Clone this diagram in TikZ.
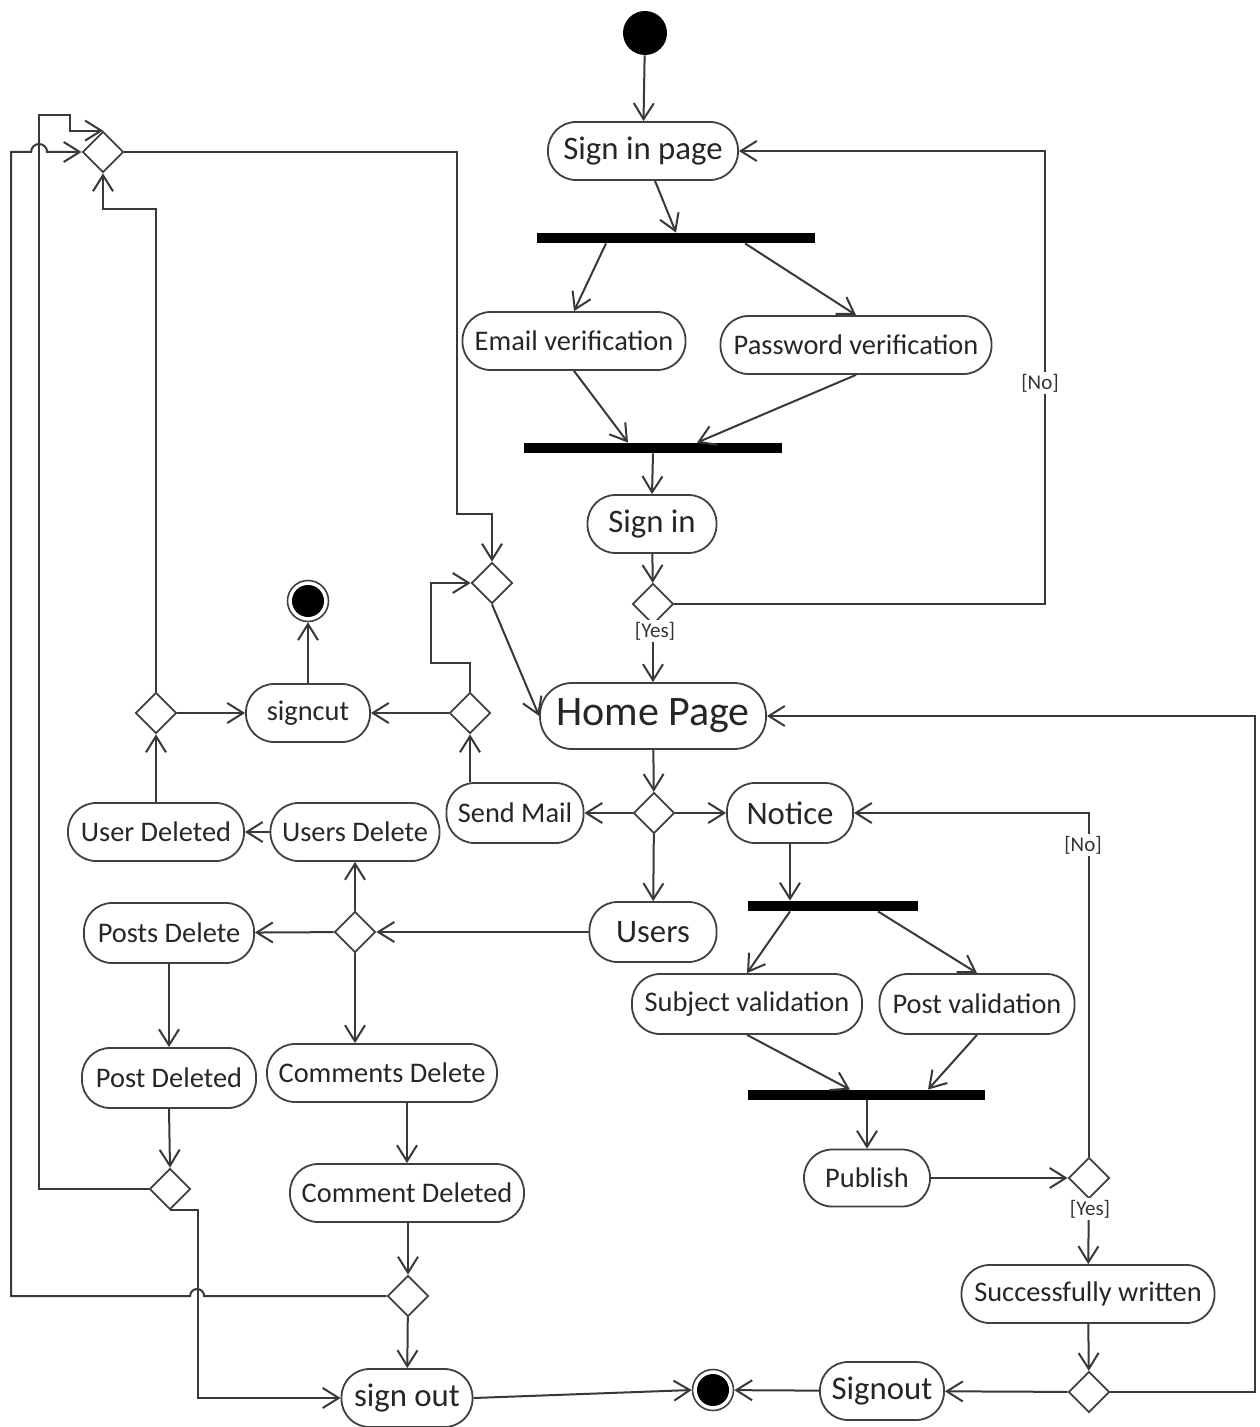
\documentclass[tikz,border=0pt]{standalone}
\usepackage{fontspec}
\setmainfont{Carlito}
\usetikzlibrary{shapes.geometric,arrows.meta,calc}
\begin{document}
\begin{tikzpicture}[x=0.5pt,y=-0.5pt,
  ln/.style={draw=black!78, line width=1pt},
  arr/.style={ln, -{Straight Barb[length=8pt,width=10pt]}},
  act/.style={draw=black!75, line width=0.9pt, rounded corners=14pt, minimum height=29pt, inner sep=0pt, text=black!85},
  big/.style={act, font=\fontsize{16.4}{19}\selectfont},
  sml/.style={act, font=\fontsize{14.2}{17}\selectfont},
  dec/.style={diamond, draw=black!75, line width=0.9pt, minimum width=20.5pt, minimum height=20.5pt, inner sep=0pt, aspect=1},
  bar/.style={fill=black, minimum height=5pt, inner sep=0pt},
  lbl/.style={fill=white, inner sep=1pt, font=\fontsize{10.5}{12}\selectfont, text=black!80},
  initial/.style={circle, fill=black, minimum size=22pt, inner sep=0pt},
  final/.style={circle, draw=black!75, line width=0.8pt, minimum size=20.5pt, inner sep=0pt, path picture={\fill[black] (path picture bounding box.center) circle (8pt);}},
]
\useasboundingbox (0,0) rectangle (1259,1427);

% nodes
\node[initial] (start) at (645,33) {};
\node[big, minimum width=95pt] (signinpage) at (643,151) {Sign in page};
\node[bar, minimum width=139pt] (bar1) at (676,238) {};
\node[sml, minimum width=111.5pt] (email) at (574,341) {Email verification};
\node[sml, minimum width=135.5pt] (pass) at (856,345) {Password verification};
\node[bar, minimum width=129pt] (bar2) at (653,448) {};
\node[big, minimum width=64.5pt] (signin) at (652,524) {Sign in};
\node[dec] (d1) at (653,604) {};
\node[act, font=\fontsize{21}{25}\selectfont, minimum width=113pt, minimum height=33pt, rounded corners=16pt] (home) at (653,716) {Home Page};
\node[dec] (d2) at (654,813) {};
\node[sml, minimum width=68.5pt, minimum height=30pt] (mail) at (515,813) {Send Mail};
\node[big, minimum width=63pt, minimum height=30pt] (notice) at (790,813) {Notice};
\node[big, minimum width=63.5pt, minimum height=30pt] (users) at (653,932) {Users};
\node[dec] (d3) at (355,932) {};
\node[sml, minimum width=84.5pt] (usersdel) at (355,832) {Users Delete};
\node[sml, minimum width=88pt] (userdeleted) at (156,832) {User Deleted};
\node[sml, minimum width=85pt, minimum height=30pt] (postsdel) at (169,933) {Posts Delete};
\node[sml, minimum width=87pt, minimum height=30pt] (postdeleted) at (169,1078) {Post Deleted};
\node[sml, minimum width=115pt] (commentsdel) at (382,1073) {Comments Delete};
\node[sml, minimum width=117pt] (commentdeleted) at (407,1193) {Comment Deleted};
\node[dec] (d4) at (170,1189) {};
\node[dec] (d5) at (408,1296) {};
\node[big, minimum width=65.5pt] (signout1) at (407,1398) {sign out};
\node[final] (endB) at (713,1390) {};
\node[big, minimum width=62pt] (signout2) at (882,1391) {Signout};
\node[dec] (d6) at (1089,1392) {};
\node[sml, minimum width=126.5pt] (succ) at (1088,1294) {Successfully written};
\node[dec] (d7) at (1089,1178) {};
\node[sml, minimum width=63pt, minimum height=28.5pt] (publish) at (867,1178) {Publish};
\node[bar, minimum width=118.5pt] (bar4) at (866,1095) {};
\node[sml, minimum width=115pt, minimum height=30pt] (subject) at (747,1004) {Subject validation};
\node[sml, minimum width=97.5pt, minimum height=30pt] (postval) at (977,1004) {Post validation};
\node[bar, minimum width=85pt] (bar3) at (833,906) {};
\node[sml, minimum width=62pt] (signcut) at (308,713) {signcut};
\node[final] (endT) at (308,601) {};
\node[dec] (d8) at (156,713) {};
\node[dec] (d9) at (470,713) {};
\node[dec] (d10) at (492,583) {};
\node[dec] (d11) at (103,152) {};
\coordinate (rA) at (1045,604);

% connectors
\draw[arr] (start) -- (signinpage);
\draw[arr] ($(signinpage.south)+(12,0)$) -- (bar1.north);
\draw[arr] ($(bar1.south)+(-70,0)$) -- (email.north);
\draw[arr] ($(bar1.south)+(69,0)$) -- (pass.north);
\draw[arr] (email.south) -- ($(bar2.north)+(-25,0)$);
\draw[arr] (pass.south) -- ($(bar2.north)+(44,0)$);
\draw[arr] (bar2.south) -- (signin.north);
\draw[arr] (signin) -- (d1);
\draw[arr] (d1.east) -- (rA) |- (signinpage.east);
\draw[arr] (d1) -- (home);
\draw[arr] (home) -- (d2);
\draw[arr] (d2) -- (mail);
\draw[arr] (d2) -- (notice);
\draw[arr] (d2) -- (users);
\draw[arr] (users) -- (d3);
\draw[arr] (d3) -- (usersdel);
\draw[arr] (d3) -- (postsdel);
\draw[arr] (d3.south) -- (d3.south |- commentsdel.north);
\draw[arr] (usersdel) -- (userdeleted);
\draw[arr] (d8.south |- userdeleted.north) -- (d8.south);
\draw[arr] (d8) -- (signcut);
\draw[arr] (d9) -- (signcut);
\draw[arr] (d9.south |- mail.north) -- (d9.south);
\draw[arr] (signcut) -- (endT);
\draw[arr] (d8.north) |- ($(d11.south)+(0,36)$) -- (d11.south);
\draw[arr] (d9.north) |- ($(d10.west)+(-40,80)$) |- (d10.west);
\draw[arr] (d10.south) -- (home.west);
\draw[arr] (d11.east) -| ($(d10.north)+(-35,-48)$) -| (d10.north);
\draw[arr] (postsdel) -- (postdeleted);
\draw[arr] (postdeleted.south) -- (d4.north);
\draw[arr] (d4.west) -- ++(-110,0) |- ($(d11.north)+(-33,-16)$) |- (d11.north);
\draw[arr] (d4.south) -- ++(28,0) |- (signout1.west);
\draw[arr] (commentsdel.south -| commentdeleted.north) -- (commentdeleted.north);
\draw[arr] (commentdeleted.south -| d5.north) -- (d5.north);
\draw[arr] (d5) -- (signout1);
\draw[arr] (d5.west) -- ++(-182.5,0) arc[start angle=0,end angle=180,radius=3.5pt] -- ++(-179,0) -- ++(0,-1144) -- ++(20,0) arc[start angle=180,end angle=0,radius=4pt] -- (d11.west);
\draw[arr] (d6.east) -- ++(145,0) |- (home.east);
\draw[arr] (succ) -- (d6);
\draw[arr] (d6) -- (signout2);
\draw[arr] (signout2) -- (endB);
\draw[arr] (signout1.east) -- (endB.west);
\draw[arr] (publish) -- (d7);
\draw[arr] (d7) -- (succ);
\draw[arr] (d7.north) |- (notice.east);
\draw[arr] (bar4.south -| publish.north) -- (publish.north);
\draw[arr] (subject.south) -- ($(bar4.north)+(-16,0)$);
\draw[arr] (postval.south) -- ($(bar4.north)+(62,0)$);
\draw[arr] ($(bar3.south)+(-43,0)$) -- (subject.north);
\draw[arr] ($(bar3.south)+(45,0)$) -- (postval.north);
\draw[arr] (notice.south) -- (notice.south |- bar3.north);

% guard labels
\node[lbl] (no1) at (1040,383) {[No]};
\node[lbl] (yes1) at (655,631) {[Yes]};
\node[lbl] (no2) at (1083,845) {[No]};
\node[lbl] (yes2) at (1090,1209) {[Yes]};
\end{tikzpicture}
\end{document}
